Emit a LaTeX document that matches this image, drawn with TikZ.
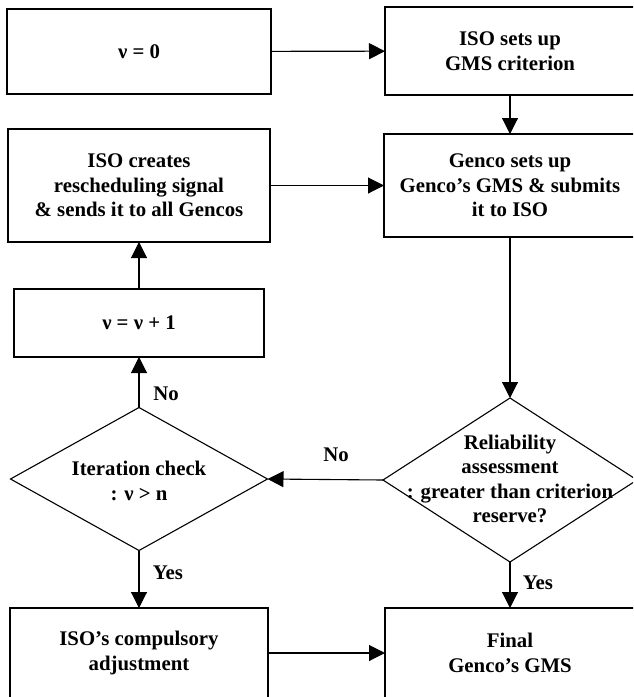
\documentclass[tikz,border=0pt]{standalone}
\usepackage{fontspec}
\setmainfont{Liberation Serif}
\usetikzlibrary{arrows.meta,shapes.geometric}
\begin{document}
\begin{tikzpicture}[x=1pt,y=-1pt,
  txt/.style={align=center,inner sep=0pt,font=\fontsize{20.8}{24.5}\selectfont\bfseries},
  box/.style={txt,draw,line width=1.1pt,outer sep=0pt},
  dia/.style={diamond,draw,line width=1.1pt,inner sep=0pt,outer sep=0pt},
  arr/.style={line width=1.1pt,-{Triangle[length=16pt,width=16pt]}},
  lbl/.style={txt}]
\clip (0,0) rectangle (633,697);
\fill[white] (0,0) rectangle (633,697);
% boxes
\node[box,minimum width=264pt,minimum height=85pt] (b0) at (139,51.5) {ν = 0};
\node[box,minimum width=250pt,minimum height=88pt] (b1) at (510,51) {ISO sets up\\GMS criterion};
\node[box,minimum width=262pt,minimum height=113pt] (b2) at (139,185.5) {ISO creates\\rescheduling signal\\\& sends it to all Gencos};
\node[box,minimum width=252pt,minimum height=103pt] (b3) at (510,185.5) {Genco sets up\\Genco’s GMS \& submits\\it to ISO};
\node[box,minimum width=250pt,minimum height=68pt] (b4) at (139,323) {ν = ν + 1};
\node[dia,minimum width=257pt,minimum height=143pt] (d1) at (139,479) {};
\node[txt] (d1t) at (139,481) {Iteration check\\: ν > n};
\node[dia,minimum width=254pt,minimum height=164pt] (d2) at (510,480) {};
\node[txt] (d2t) at (510,479) {Reliability\\assessment\\: greater than criterion\\reserve?};
\node[box,minimum width=258pt,minimum height=90pt] (b5) at (139,653) {ISO’s compulsory\\adjustment};
\node[box,minimum width=250pt,minimum height=90pt] (b6) at (510,653) {Final\\Genco’s GMS};
% connectors
\draw[arr] (b0) -- (b1);
\draw[arr] (b1) -- (b3);
\draw[arr] (b2) -- (b3);
\draw[arr] (b4) -- (b2);
\draw[arr] (d1.north) -- (b4);
\draw[arr] (b3) -- (d2.north);
\draw[arr] (d2.west) -- (d1.east);
\draw[arr] (d1.south) -- (b5);
\draw[arr] (d2.south) -- (b6);
\draw[arr] (b5) -- (b6);
% labels
\node[lbl] (l1) at (166,394) {No};
\node[lbl] (l2) at (336,455) {No};
\node[lbl] (l3) at (168,573) {Yes};
\node[lbl] (l4) at (538,583) {Yes};
\end{tikzpicture}
\end{document}
